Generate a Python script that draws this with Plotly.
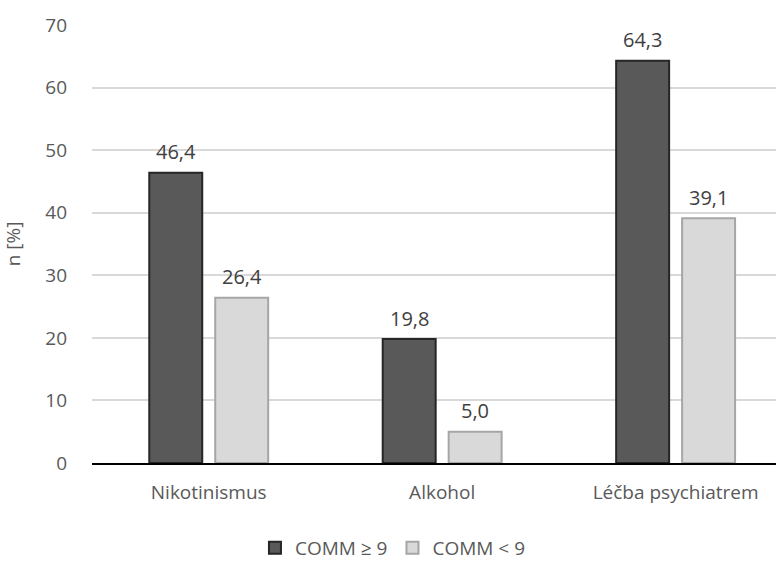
import plotly.graph_objects as go

categories = ["Nikotinismus", "Alkohol", "Léčba psychiatrem"]
comm_high = [46.4, 19.8, 64.3]
comm_low = [26.4, 5.0, 39.1]
series_names = ["COMM ≥ 9", "COMM < 9"]
y_ticks = [0, 10, 20, 30, 40, 50, 60, 70]

font_family = "Open Sans, Noto Sans, sans-serif"
label_color = "#404040"

fig = go.Figure()
fig.add_trace(go.Bar(
    x=categories, y=comm_high, name=series_names[0],
    marker=dict(color="#595959", line=dict(color="#262626", width=2)),
))
fig.add_trace(go.Bar(
    x=categories, y=comm_low, name=series_names[1],
    marker=dict(color="#d9d9d9", line=dict(color="#a6a6a6", width=2)),
))

# data labels placed above each bar, shifted to its slot in the group
for values, shift in ((comm_high, -33), (comm_low, 33)):
    for cat, v in zip(categories, values):
        fig.add_annotation(
            x=cat, y=v, xref="x", yref="y", text=f"{v:.1f}".replace(".", ","),
            showarrow=False, xshift=shift, yshift=21, yanchor="middle",
            font=dict(size=20, color=label_color, family=font_family),
        )

fig.update_layout(
    width=777, height=561,
    margin=dict(l=92, r=1, t=25, b=98, autoexpand=False),
    paper_bgcolor="white", plot_bgcolor="white",
    separators=", ",
    barmode="group", bargap=0.435, bargroupgap=0.197,
    font=dict(family=font_family, color="#595959", size=19),
    showlegend=True,
    legend=dict(orientation="h", x=0.44, xanchor="center", y=-0.194, yanchor="middle",
                font=dict(size=19, color="#595959"), traceorder="normal"),
    xaxis=dict(range=[-0.5, 2.43], showgrid=False, showline=True, linecolor="#000000",
               linewidth=2, ticks="", ticklabelstandoff=11, automargin=False,
               tickfont=dict(size=19, color="#595959")),
    yaxis=dict(range=[0, 70], tickvals=y_ticks, showgrid=True, gridcolor="#d9d9d9",
               gridwidth=1.5, zeroline=False, showline=False, ticks="", automargin=False,
               tickfont=dict(size=19, color="#595959"), ticklabelstandoff=24,
               title=dict(text="n [%]", font=dict(size=19, color="#595959"), standoff=22)),
)

fig.write_html("out.html")
